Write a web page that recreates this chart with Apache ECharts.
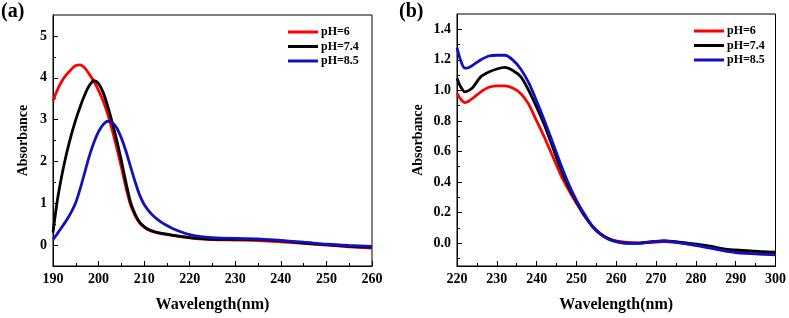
<!DOCTYPE html>
<html>
<head>
<meta charset="utf-8">
<script src="https://cdn.jsdelivr.net/npm/echarts@6/dist/echarts.min.js"></script>
<style>
html,body{margin:0;padding:0;background:#fff;}
#c{width:789px;height:318px;}
</style>
</head>
<body>
<div id="c"></div>
<script>
// ---------- data ----------
var seriesNames = ['pH=6', 'pH=7.4', 'pH=8.5'];

// panel (a)
var waveA = [190,191,192,193,194,195,196,197,198,199,200,201,202,203,204,205,206,207,208,209,210,211,212,213,214,215,216,218,220,222,225,230,235,240,245,250,255,260];
var absA_pH6 = [3.45,3.72,3.93,4.08,4.20,4.29,4.31,4.23,4.08,3.91,3.70,3.45,3.13,2.75,2.32,1.86,1.38,0.97,0.71,0.53,0.43,0.36,0.32,0.29,0.27,0.25,0.23,0.20,0.17,0.15,0.13,0.12,0.11,0.08,0.04,0.00,-0.04,-0.07];
var absA_pH74 = [0.30,1.10,1.70,2.20,2.63,3.00,3.32,3.60,3.82,3.93,3.86,3.65,3.32,2.93,2.50,2.02,1.50,1.03,0.74,0.55,0.44,0.37,0.33,0.30,0.28,0.26,0.24,0.21,0.18,0.16,0.14,0.14,0.13,0.10,0.05,0.01,-0.03,-0.05];
var absA_pH85 = [0.13,0.28,0.44,0.60,0.79,1.02,1.36,1.75,2.14,2.46,2.71,2.88,2.96,2.93,2.80,2.56,2.25,1.88,1.52,1.20,0.97,0.82,0.70,0.61,0.53,0.47,0.41,0.32,0.25,0.21,0.18,0.16,0.15,0.11,0.07,0.02,-0.01,-0.03];

// panel (b)
var waveB = [220,221,222,223,224,226,228,230,232,234,236,238,240,242,244,246,248,250,252,254,256,258,260,263,266,269,272,275,278,281,284,287,290,293,296,300];
var absB_pH6 = [0.98,0.94,0.92,0.93,0.95,0.99,1.02,1.03,1.03,1.015,0.98,0.91,0.80,0.69,0.57,0.45,0.35,0.26,0.18,0.11,0.06,0.03,0.015,0.005,0.0,0.005,0.01,0.005,-0.005,-0.015,-0.03,-0.05,-0.058,-0.065,-0.07,-0.075];
var absB_pH74 = [1.08,1.02,0.99,1.00,1.02,1.09,1.12,1.14,1.15,1.13,1.09,1.00,0.89,0.77,0.63,0.49,0.37,0.27,0.18,0.11,0.06,0.03,0.01,0.0,0.0,0.01,0.015,0.01,0.0,-0.01,-0.022,-0.038,-0.045,-0.05,-0.055,-0.06];
var absB_pH85 = [1.28,1.19,1.145,1.15,1.165,1.20,1.225,1.23,1.23,1.20,1.14,1.05,0.93,0.80,0.66,0.52,0.39,0.28,0.19,0.11,0.06,0.025,0.01,-0.002,0.0,0.008,0.014,0.005,-0.006,-0.02,-0.035,-0.05,-0.062,-0.068,-0.072,-0.077];

// axis ticks
var yTicksA = [0,1,2,3,4,5];
var yMinorA = [-0.5,0.5,1.5,2.5,3.5,4.5];
var yTicksB = [0,0.2,0.4,0.6,0.8,1.0,1.2,1.4];
var yMinorB = [-0.1,0.1,0.3,0.5,0.7,0.9,1.1,1.3];

// ---------- chart ----------
var FONT = 'Liberation Serif, Times New Roman, serif';
var colors = ['#ff0000', '#000000', '#1010c0'];

function pairs(xs, ys){ return xs.map(function(x,i){ return [x, ys[i]]; }); }

function xAxisCfg(gi, min, max){
  return {
    type:'value', gridIndex:gi, min:min, max:max, interval:10,
    name:'Wavelength(nm)', nameLocation:'middle', nameGap:31,
    nameTextStyle:{fontFamily:FONT, fontWeight:'bold', fontSize:16, color:'#000'},
    axisLine:{show:true, onZero:false, lineStyle:{color:'#000', width:1}},
    axisTick:{show:true, inside:true, length:5, lineStyle:{color:'#000'}},
    minorTick:{show:true, splitNumber:2, length:3, lineStyle:{color:'#000'}},
    splitLine:{show:false},
    axisLabel:{fontFamily:FONT, fontWeight:'bold', fontSize:14, color:'#000', margin:6}
  };
}
function yMainCfg(gi, min, max, ticks, gap, fmt){
  return {
    type:'value', gridIndex:gi, min:min, max:max,
    name:'Absorbance', nameLocation:'middle', nameGap:gap,
    nameTextStyle:{fontFamily:FONT, fontWeight:'bold', fontSize:14, color:'#000'},
    axisLine:{show:true, onZero:false, lineStyle:{color:'#000', width:1}},
    axisTick:{show:true, inside:true, length:5, customValues:ticks, lineStyle:{color:'#000'}},
    splitLine:{show:false},
    axisLabel:{fontFamily:FONT, fontWeight:'bold', fontSize:14, color:'#000', margin:6,
      customValues:ticks, formatter:fmt}
  };
}
function yMinorCfg(gi, min, max, ticks){
  return {
    type:'value', gridIndex:gi, min:min, max:max, position:'left', offset:0,
    axisLine:{show:false, onZero:false},
    axisTick:{show:true, inside:true, length:3, customValues:ticks, lineStyle:{color:'#000'}},
    axisLabel:{show:false},
    splitLine:{show:false}
  };
}
function line(name, xi, yi, data, color){
  return {
    type:'line', name:name, xAxisIndex:xi, yAxisIndex:yi, data:data,
    smooth:0.3, symbol:'none', showSymbol:false,
    lineStyle:{color:color, width:2.8}, itemStyle:{color:color},
    z:3
  };
}
function legendCfg(left, top){
  return {
    data:seriesNames, orient:'vertical', left:left, top:top,
    icon:'rect', itemWidth:30, itemHeight:3, itemGap:2.5, padding:0,
    textStyle:{fontFamily:FONT, fontWeight:'bold', fontSize:12, color:'#000', padding:[0,0,0,-2]}
  };
}

var chart = echarts.init(document.getElementById('c'), null, {renderer:'canvas'});
chart.setOption({
  animation:false,
  backgroundColor:'#fff',
  title:[
    {text:'(a)', left:1, top:2, padding:0, textStyle:{fontFamily:FONT, fontWeight:'bold', fontSize:20, color:'#000'}},
    {text:'(b)', left:399, top:2, padding:0, textStyle:{fontFamily:FONT, fontWeight:'bold', fontSize:20, color:'#000'}}
  ],
  grid:[
    {left:53, right:417, top:15, bottom:46, show:true, borderColor:'#000', borderWidth:1, backgroundColor:'transparent'},
    {left:457, right:12, top:14, bottom:46, show:true, borderColor:'#000', borderWidth:1, backgroundColor:'transparent'}
  ],
  legend:[ legendCfg(288, 26), legendCfg(694, 25) ],
  xAxis:[ xAxisCfg(0,190,260), xAxisCfg(1,220,300) ],
  yAxis:[
    yMainCfg(0,-0.5,5.5,yTicksA,23,function(v){return String(Math.round(v));}),
    yMainCfg(1,-0.15,1.5,yTicksB,32,function(v){return v.toFixed(1);}),
    yMinorCfg(0,-0.5,5.5,yMinorA),
    yMinorCfg(1,-0.15,1.5,yMinorB)
  ],
  series:[
    line(seriesNames[0],0,0,pairs(waveA,absA_pH6),colors[0]),
    line(seriesNames[1],0,0,pairs(waveA,absA_pH74),colors[1]),
    line(seriesNames[2],0,0,pairs(waveA,absA_pH85),colors[2]),
    line(seriesNames[0],1,1,pairs(waveB,absB_pH6),colors[0]),
    line(seriesNames[1],1,1,pairs(waveB,absB_pH74),colors[1]),
    line(seriesNames[2],1,1,pairs(waveB,absB_pH85),colors[2])
  ]
});
</script>
</body>
</html>
